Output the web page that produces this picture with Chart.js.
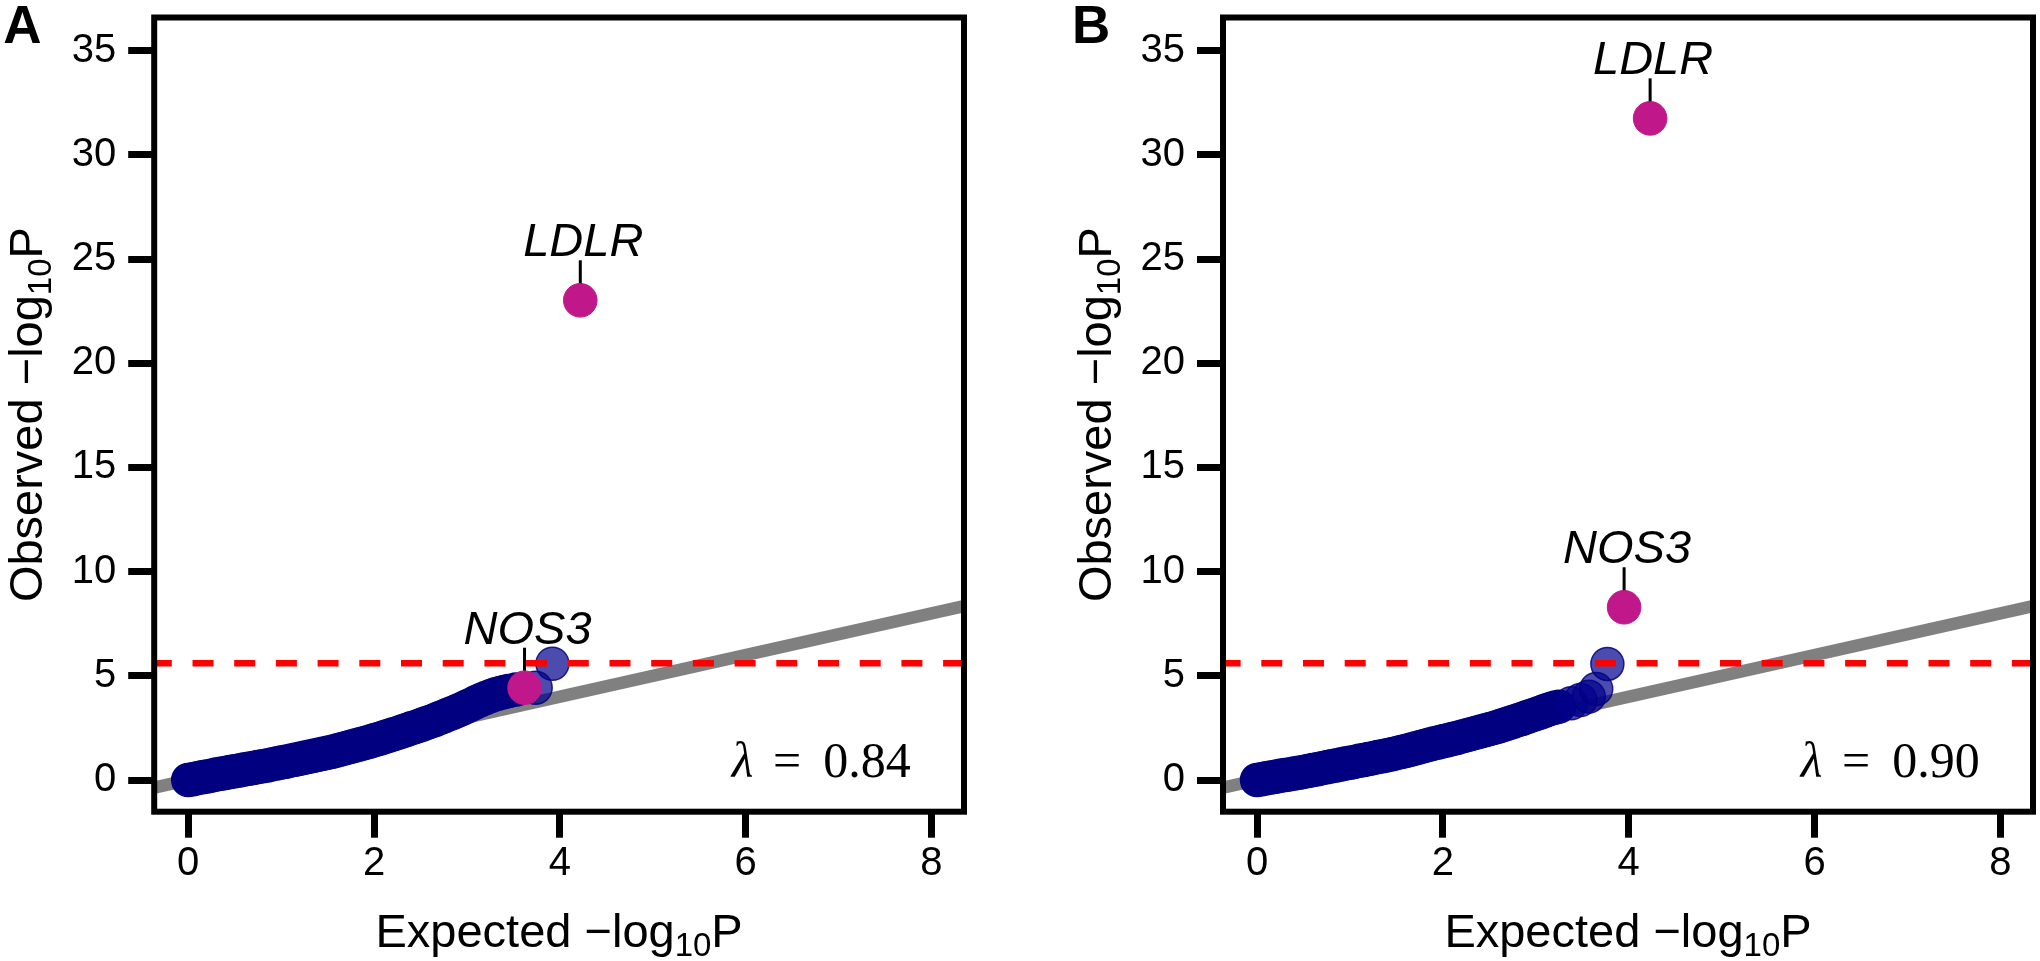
<!DOCTYPE html>
<html>
<head>
<meta charset="utf-8">
<script src="https://cdn.jsdelivr.net/npm/chart.js@4.4.1/dist/chart.umd.min.js"></script>
<style>
html,body{margin:0;padding:0;background:#fff;}
#wrap{position:relative;width:2040px;height:961px;background:#fff;}
canvas{position:absolute;top:0;}
</style>
</head>
<body>
<div id="wrap">
<canvas id="cA" width="1020" height="961" style="left:0px"></canvas>
<canvas id="cB" width="1020" height="961" style="left:1020px"></canvas>
</div>
<script>
// ---------- data ----------
const xTicks = [0, 2, 4, 6, 8];
const yTicks = [0, 5, 10, 15, 20, 25, 30, 35];
const xLimits = [-0.366, 8.35];
const yLimits = [-1.52, 36.59];
const threshold = 5.6;

// Panel A: dense body of the QQ curve (expected, observed)
const expA = [0.00,0.05,0.10,0.15,0.20,0.25,0.30,0.35,0.40,0.45,0.50,0.55,0.60,0.65,0.70,0.75,0.80,0.85,0.90,0.95,
  1.00,1.05,1.10,1.15,1.20,1.25,1.30,1.35,1.40,1.45,1.50,1.55,1.60,1.65,1.70,1.75,1.80,1.85,1.90,1.95,
  2.00,2.05,2.10,2.15,2.20,2.25,2.30,2.35,2.40,2.45,2.50,2.55,2.60,2.65,2.70,2.75,2.80,2.85,2.90,2.95,
  3.00,3.05,3.10,3.15,3.20,3.25,3.30,3.35,3.40,3.45,3.53];
const obsA = [0.00,0.04,0.09,0.13,0.17,0.21,0.26,0.30,0.34,0.38,0.42,0.46,0.50,0.54,0.58,0.62,0.66,0.70,0.75,0.79,
  0.84,0.88,0.93,0.97,1.02,1.07,1.12,1.16,1.21,1.26,1.31,1.36,1.42,1.48,1.54,1.60,1.66,1.72,1.78,1.84,
  1.91,1.97,2.04,2.11,2.18,2.25,2.33,2.40,2.48,2.55,2.63,2.71,2.79,2.87,2.96,3.05,3.14,3.23,3.32,3.42,
  3.53,3.63,3.74,3.84,3.93,4.02,4.10,4.16,4.22,4.27,4.34];
// Panel A: sparse top genes (unlabelled)
const tailExpA = [3.74, 3.92];
const tailObsA = [4.43, 5.58];
// Panel A: labelled genes
const hitNamesA = ['NOS3', 'LDLR'];
const hitExpA = [3.62, 4.22];
const hitObsA = [4.43, 23.02];
const lambdaA = '0.84';

// Panel B
const expB = [0.00,0.05,0.10,0.15,0.20,0.25,0.30,0.35,0.40,0.45,0.50,0.55,0.60,0.65,0.70,0.75,0.80,0.85,0.90,0.95,
  1.00,1.05,1.10,1.15,1.20,1.25,1.30,1.35,1.40,1.45,1.50,1.55,1.60,1.65,1.70,1.75,1.80,1.85,1.90,1.95,
  2.00,2.05,2.10,2.15,2.20,2.25,2.30,2.35,2.40,2.45,2.50,2.55,2.60,2.65,2.70,2.75,2.80,2.85,2.90,2.95,
  3.00,3.05,3.10,3.15,3.20,3.25];
const obsB = [0.00,0.04,0.08,0.12,0.16,0.20,0.24,0.27,0.31,0.35,0.39,0.43,0.48,0.52,0.57,0.61,0.66,0.70,0.74,0.79,
  0.83,0.87,0.92,0.96,1.01,1.05,1.10,1.14,1.19,1.24,1.29,1.34,1.39,1.45,1.51,1.57,1.63,1.69,1.75,1.80,
  1.86,1.91,1.97,2.02,2.08,2.14,2.20,2.26,2.32,2.38,2.44,2.50,2.57,2.64,2.71,2.78,2.86,2.93,3.01,3.09,
  3.16,3.24,3.32,3.40,3.47,3.52];
const tailExpB = [3.38, 3.48, 3.57, 3.65, 3.77];
const tailObsB = [3.68, 3.84, 4.00, 4.37, 5.57];
const hitNamesB = ['NOS3', 'LDLR'];
const hitExpB = [3.95, 4.23];
const hitObsB = [8.29, 31.75];
const lambdaB = '0.90';

// ---------- drawing ----------
const SANS = '"Liberation Sans", Arial, Helvetica, sans-serif';
const SERIF = '"Liberation Serif", "Times New Roman", serif';

function drawAxisTitle(ctx, word) {
  const big = 47, small = 33, sub = 9;
  const parts = [
    {t: word + ' \u2212log', s: big, dy: 0},
    {t: '10', s: small, dy: sub},
    {t: 'P', s: big, dy: 0}
  ];
  let total = 0;
  parts.forEach(p => { ctx.font = p.s + 'px ' + SANS; p.w = ctx.measureText(p.t).width; total += p.w; });
  let x = -total / 2;
  ctx.textAlign = 'left';
  ctx.textBaseline = 'alphabetic';
  parts.forEach(p => { ctx.font = p.s + 'px ' + SANS; ctx.fillText(p.t, x, p.dy); x += p.w; });
}

function makeDeco(panel) {
  return {
    id: 'deco' + panel.letter,
    afterDraw(chart) {
      const ctx = chart.ctx, a = chart.chartArea;
      const sx = chart.scales.x, sy = chart.scales.y;
      ctx.save();
      ctx.fillStyle = '#000';
      ctx.strokeStyle = '#000';
      // frame
      ctx.lineWidth = 6;
      ctx.strokeRect(a.left, a.top, a.right - a.left, a.bottom - a.top);
      // labelled genes
      panel.hitNames.forEach((n, i) => {
        const px = sx.getPixelForValue(panel.hitExp[i]);
        const py = sy.getPixelForValue(panel.hitObs[i]);
        ctx.beginPath();
        ctx.lineWidth = 3;
        ctx.moveTo(px, py - 17);
        ctx.lineTo(px, py - 40);
        ctx.stroke();
        ctx.font = 'italic 47px ' + SANS;
        ctx.textAlign = 'center';
        ctx.textBaseline = 'alphabetic';
        ctx.fillText(n, px + 3, py - 44);
      });
      // lambda
      const rx = a.right - 53.3, by = a.bottom - 34.7;
      ctx.textBaseline = 'alphabetic';
      ctx.font = 'italic 50px ' + SERIF;
      ctx.textAlign = 'left';
      ctx.fillText('\u03bb', rx - 179, by);
      ctx.font = '50px ' + SERIF;
      ctx.fillText('=', rx - 137.7, by);
      ctx.textAlign = 'right';
      ctx.fillText(panel.lambda, rx, by);
      // panel letter
      ctx.font = 'bold 53px ' + SANS;
      ctx.textAlign = 'left';
      ctx.fillText(panel.letter, a.left - 151, 43);
      // x title
      ctx.save();
      ctx.translate((a.left + a.right) / 2, 947);
      drawAxisTitle(ctx, 'Expected');
      ctx.restore();
      // y title
      ctx.save();
      ctx.translate(a.left - 112, (a.top + a.bottom) / 2);
      ctx.rotate(-Math.PI / 2);
      drawAxisTitle(ctx, 'Observed');
      ctx.restore();
      ctx.restore();
    }
  };
}

function makeChart(id, panel) {
  const pts = panel.exp.map((x, i) => ({x: x, y: panel.obs[i]}));
  const tail = panel.tailExp.map((x, i) => ({x: x, y: panel.tailObs[i]}));
  const hits = panel.hitExp.map((x, i) => ({x: x, y: panel.hitObs[i]}));
  const tickFont = {family: SANS, size: 40};
  return new Chart(document.getElementById(id), {
    type: 'scatter',
    data: {
      datasets: [
        {data: [{x: xLimits[0], y: xLimits[0]}, {x: xLimits[1], y: xLimits[1]}], showLine: true,
         borderColor: '#808080', borderWidth: 12.5, pointRadius: 0, order: 5, clip: 0},
        {data: pts, backgroundColor: 'rgb(0,0,128)', borderColor: 'rgb(0,0,128)',
         borderWidth: 1.5, pointRadius: 16.5, order: 4, clip: false},
        {data: tail, backgroundColor: 'rgba(0,0,139,0.7)', borderColor: 'rgba(0,0,128,0.85)',
         borderWidth: 1.5, pointRadius: 16.5, order: 3, clip: false},
        {data: [{x: xLimits[0], y: threshold}, {x: xLimits[1], y: threshold}], showLine: true,
         borderColor: '#ff0000', borderWidth: 6.5, borderDash: [21, 20.7], borderDashOffset: 3.4,
         pointRadius: 0, order: 2, clip: 0},
        {data: hits, backgroundColor: 'rgb(192,24,138)', borderColor: 'rgb(192,24,138)',
         borderWidth: 1, pointRadius: 16.8, order: 1, clip: false}
      ]
    },
    options: {
      responsive: false,
      animation: false,
      devicePixelRatio: 1,
      events: [],
      layout: {autoPadding: false, padding: {left: 0, right: panel.padRight, top: 17.5, bottom: 0}},
      plugins: {legend: {display: false}, tooltip: {enabled: false}},
      scales: {
        x: {
          type: 'linear', min: xLimits[0], max: xLimits[1],
          afterBuildTicks: s => { s.ticks = xTicks.map(v => ({value: v})); },
          afterFit: s => { s.height = 149.3; s.paddingLeft = 0; s.paddingRight = 0; s.paddingTop = 0; s.paddingBottom = 0; },
          grid: {drawOnChartArea: false, drawTicks: true, tickLength: 26, tickWidth: 7, tickColor: '#000'},
          border: {display: false},
          ticks: {color: '#000', font: tickFont, padding: 2, maxRotation: 0, minRotation: 0, autoSkip: false}
        },
        y: {
          type: 'linear', min: yLimits[0], max: yLimits[1],
          afterBuildTicks: s => { s.ticks = yTicks.map(v => ({value: v})); },
          afterFit: s => { s.width = panel.axisWidth; s.paddingLeft = 0; s.paddingRight = 0; s.paddingTop = 0; s.paddingBottom = 0; },
          grid: {drawOnChartArea: false, drawTicks: true, tickLength: 26, tickWidth: 7, tickColor: '#000'},
          border: {display: false},
          ticks: {color: '#000', font: tickFont, padding: 12, autoSkip: false}
        }
      }
    },
    plugins: [makeDeco(panel)]
  });
}

makeChart('cA', {letter: 'A', exp: expA, obs: obsA, tailExp: tailExpA, tailObs: tailObsA,
  hitNames: hitNamesA, hitExp: hitExpA, hitObs: hitObsA, lambda: lambdaA, axisWidth: 154.2, padRight: 56});
makeChart('cB', {letter: 'B', exp: expB, obs: obsB, tailExp: tailExpB, tailObs: tailObsB,
  hitNames: hitNamesB, hitExp: hitExpB, hitObs: hitObsB, lambda: lambdaB, axisWidth: 203, padRight: 7});
</script>
</body>
</html>
